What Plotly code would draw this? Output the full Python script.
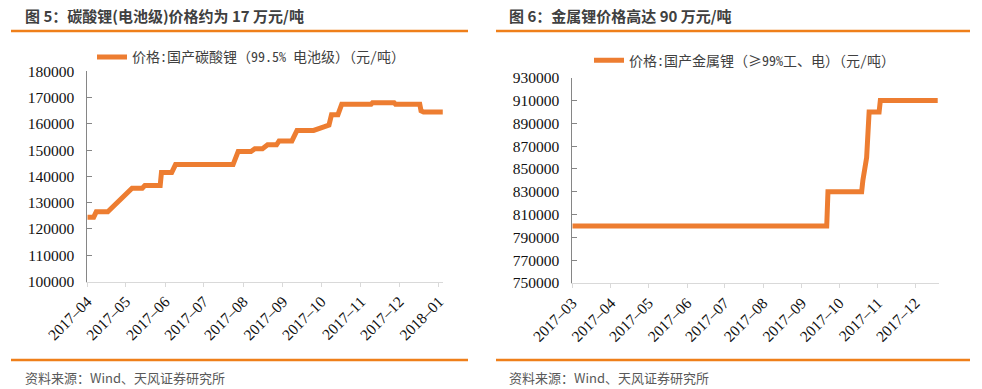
import plotly.graph_objects as go

W, H = 982, 389

# ---- Data: 碳酸锂 (电池级) price, 元/吨
li2co3_dates = [
    "2017-04-01", "2017-04-06", "2017-04-08", "2017-04-17", "2017-05-06",
    "2017-05-14", "2017-05-16", "2017-05-28", "2017-05-29", "2017-06-06",
    "2017-06-07", "2017-06-09", "2017-07-24", "2017-07-28", "2017-08-07",
    "2017-08-10", "2017-08-16", "2017-08-20", "2017-08-27", "2017-08-29",
    "2017-09-08", "2017-09-12", "2017-09-25", "2017-10-07", "2017-10-09",
    "2017-10-14", "2017-10-17", "2017-11-09", "2017-11-10", "2017-11-27",
    "2017-11-28", "2017-12-17", "2017-12-18", "2017-12-20", "2018-01-04",
]
li2co3_values = [
    124500, 124500, 126500, 126500, 135500,
    135500, 136500, 136500, 141500, 141500,
    142500, 144500, 144500, 149500, 149500,
    150500, 150500, 152000, 152000, 153500,
    153500, 157500, 157500, 159500, 163500,
    163500, 167500, 167500, 168000, 168000,
    167500, 167500, 165000, 164500, 164500,
]

# ---- Data: 金属锂 price, 元/吨
li_metal_dates = [
    "2017-03-01", "2017-09-21", "2017-09-22", "2017-10-19", "2017-10-20",
    "2017-10-23", "2017-10-25", "2017-11-02", "2017-11-03", "2017-12-19",
]
li_metal_values = [
    800000, 800000, 830000, 830000, 840000,
    860000, 900000, 900000, 910000, 910000,
]

left_title = "图 5：碳酸锂(电池级)价格约为 17 万元/吨"
right_title = "图 6：金属锂价格高达 90 万元/吨"
left_series = "价格:国产碳酸锂（99.5% 电池级）（元/吨）"
right_series = "价格:国产金属锂（≥99%工、电）（元/吨）"
source_text = "资料来源：Wind、天风证券研究所"

LINE_COLOR = "#ED7D31"
HEAD_COLOR = "#EF7F1A"
TICK_FONT = dict(family="Liberation Serif, Times New Roman, serif", size=15.5, color="#111111")
CJK = "Noto Sans CJK SC, Noto Sans, sans-serif"
CJK_MONO = "Noto Sans Mono CJK SC, Noto Sans CJK SC, sans-serif"

def px_x(p):
    return p / W

def px_y(p):
    return 1 - p / H

fig = go.Figure()
fig.add_trace(go.Scatter(
    x=li2co3_dates, y=li2co3_values, mode="lines", name=left_series,
    line=dict(color=LINE_COLOR, width=5), xaxis="x", yaxis="y", legend="legend",
))
fig.add_trace(go.Scatter(
    x=li_metal_dates, y=li_metal_values, mode="lines", name=right_series,
    line=dict(color=LINE_COLOR, width=5), xaxis="x2", yaxis="y2", legend="legend2",
))

xcommon = dict(
    type="date", dtick="M1", tickformat="%Y–%m", tickangle=-45, automargin=False,
    showgrid=False, zeroline=False, showline=True, linecolor="#D9D9D9", linewidth=1,
    ticks="outside", ticklen=4, tickcolor="#D9D9D9", tickfont=TICK_FONT,
)
ycommon = dict(
    showgrid=False, zeroline=False, showline=True, linecolor="#868686", linewidth=1,
    ticks="inside", ticklen=5, tickcolor="#868686", tickfont=TICK_FONT,
    tickformat="d", automargin=False, ticklabelstandoff=9,
)

fig.update_layout(
    template="none",
    width=W, height=H,
    margin=dict(l=0, r=0, t=0, b=0, autoexpand=False),
    paper_bgcolor="white", plot_bgcolor="white",
    xaxis=dict(domain=[px_x(87.3), px_x(443.3)], range=["2017-04-01", "2018-01-04 10:00"],
               tick0="2017-04-01", anchor="y", **xcommon),
    yaxis=dict(domain=[px_y(281.5), px_y(71.3)], range=[100000, 180000], dtick=10000,
               tick0=100000, anchor="x", **ycommon),
    xaxis2=dict(domain=[px_x(572.3), px_x(938.7)], range=["2017-03-01", "2017-12-19 19:00"],
                tick0="2017-03-01", anchor="y2", **xcommon),
    yaxis2=dict(domain=[px_y(283), px_y(77.7)], range=[750000, 930000], dtick=20000,
                tick0=750000, anchor="x2", **ycommon),
    legend=dict(x=px_x(92), y=px_y(57.3), xanchor="left", yanchor="middle",
                bgcolor="rgba(0,0,0,0)", font=dict(family=CJK_MONO, size=14, color="#404040")),
    legend2=dict(x=px_x(589), y=px_y(60.7), xanchor="left", yanchor="middle",
                 bgcolor="rgba(0,0,0,0)", font=dict(family=CJK_MONO, size=14, color="#404040")),
    showlegend=True,
)

# header / footer rules
for x0, x1 in [(11, 468), (496, 970)]:
    for yy in (31, 360):
        fig.add_shape(type="line", xref="paper", yref="paper",
                      x0=px_x(x0), x1=px_x(x1), y0=px_y(yy), y1=px_y(yy),
                      line=dict(color=HEAD_COLOR, width=2.5))

for xs, t in [(23, left_title), (507, right_title)]:
    fig.add_annotation(xref="paper", yref="paper", x=px_x(xs), y=px_y(16),
                       xanchor="left", yanchor="middle", showarrow=False,
                       text="<b>" + t + "</b>",
                       font=dict(family=CJK, size=15, color="#404040"))
    fig.add_annotation(xref="paper", yref="paper", x=px_x(xs), y=px_y(377),
                       xanchor="left", yanchor="middle", showarrow=False,
                       text=source_text,
                       font=dict(family=CJK, size=13, color="#595959"))

fig.write_html("out.html", config={"displayModeBar": False},
               post_script="document.body.style.margin='0';")
